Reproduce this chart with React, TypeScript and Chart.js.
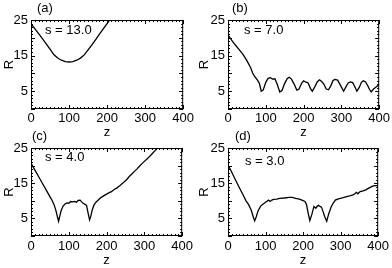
import React, { useEffect, useRef } from 'react';
import { Chart, registerables } from 'chart.js';

Chart.register(...registerables);

// ---------------- data ----------------
const panelLabels = ['(a)', '(b)', '(c)', '(d)'];
const sLabels = ['s = 13.0', 's = 7.0', 's = 4.0', 's = 3.0'];
const xTicks = [0, 100, 200, 300, 400];
const yTickLabels = [5, 15, 25];
const xTitle = 'z';
const yTitle = 'R';

const aZ = [0, 10, 20, 30, 40, 50, 60, 70, 80, 90, 100, 110, 120, 130, 140, 150, 160, 170, 180, 190, 200, 210, 220];
const aR = [24.0, 22.6, 21.2, 19.8, 18.3, 16.8, 15.3, 14.3, 13.7, 13.3, 13.2, 13.3, 13.7, 14.3, 15.2, 16.6, 18.0, 19.5, 21.0, 22.5, 24.0, 25.5, 27.0];

const bZ = [0, 10, 20, 30, 40, 50, 60, 65, 70, 78, 83, 88, 93, 100, 106, 112, 118, 124, 130, 137, 143, 150, 157, 162, 168, 175, 182, 188, 195, 200, 205, 212, 218, 223, 230, 236, 242, 248, 254, 260, 266, 272, 278, 283, 290, 296, 302, 306, 312, 318, 324, 330, 336, 341, 347, 353, 358, 364, 370, 375, 379, 385, 392, 400];
const bR = [20.8, 19.3, 17.9, 16.6, 15.3, 13.6, 11.6, 10.2, 9.2, 8.1, 7.2, 5.0, 5.3, 7.5, 8.6, 8.8, 8.4, 8.5, 7.0, 4.8, 5.2, 7.2, 8.6, 8.9, 8.4, 7.0, 5.3, 5.6, 7.3, 7.9, 7.6, 7.3, 5.8, 5.0, 6.3, 7.6, 8.2, 7.7, 6.9, 5.6, 5.4, 6.5, 8.0, 8.3, 8.1, 7.0, 5.8, 5.0, 6.2, 7.3, 7.6, 7.4, 6.2, 5.0, 6.0, 7.5, 7.9, 7.6, 6.5, 5.4, 4.8, 5.6, 6.2, 6.9];

const cZ = [0, 10, 20, 30, 40, 50, 56, 61, 66, 70, 73, 76, 80, 85, 90, 95, 100, 105, 110, 115, 120, 125, 130, 134, 138, 143, 147, 151, 155, 158, 162, 167, 172, 178, 185, 192, 200, 207, 213, 220, 227, 233, 240, 247, 253, 260, 267, 273, 280, 287, 293, 300, 307, 313, 320, 327, 333, 340];
const cR = [20.7, 18.8, 16.9, 15.0, 13.1, 11.2, 10.1, 8.9, 7.2, 5.4, 4.2, 5.6, 7.3, 8.5, 9.1, 9.4, 9.3, 9.8, 9.7, 9.8, 9.6, 10.1, 10.2, 9.7, 9.3, 9.0, 8.7, 6.6, 4.6, 5.5, 7.4, 8.9, 9.6, 10.2, 10.9, 11.4, 11.9, 12.3, 12.6, 13.2, 13.6, 14.1, 14.8, 15.4, 16.0, 16.9, 17.6, 18.3, 19.0, 19.8, 20.5, 21.2, 21.9, 22.5, 23.3, 24.1, 24.8, 25.6];

const dZ = [0, 10, 20, 30, 40, 48, 55, 62, 68, 71, 75, 80, 87, 93, 99, 104, 108, 112, 117, 121, 130, 138, 150, 163, 172, 180, 190, 197, 205, 209, 213, 218, 223, 229, 234, 238, 241, 245, 249, 253, 258, 263, 268, 275, 280, 286, 292, 299, 307, 316, 324, 333, 338, 342, 346, 352, 360, 367, 375, 384, 390, 397, 400];
const dR = [20.2, 18.1, 15.9, 13.8, 11.7, 10.0, 8.9, 7.3, 5.2, 4.3, 5.4, 7.1, 8.5, 9.0, 9.5, 9.9, 10.2, 9.8, 10.2, 10.4, 10.5, 10.7, 10.8, 11.0, 11.0, 10.7, 10.5, 10.2, 9.8, 9.0, 6.8, 4.4, 6.0, 8.4, 7.9, 8.5, 8.7, 8.4, 8.2, 7.0, 5.4, 4.2, 6.2, 8.3, 9.3, 10.2, 10.5, 10.7, 10.9, 11.2, 11.4, 11.7, 12.0, 12.4, 12.0, 12.6, 12.8, 13.1, 13.6, 14.1, 14.3, 14.3, 14.5];

const seriesZ = [aZ, bZ, cZ, dZ];
const seriesR = [aR, bR, cR, dR];

// ---------------- layout / style ----------------
const FONT = "'Liberation Sans', Arial, Helvetica, sans-serif";
const FS = 13;

type Layout = {
  left: number; top: number; w: number; h: number;
  padT: number; padR: number; yW: number; xH: number; rPad: number; zPad: number; tickPad: number;
  labelDx: number; sDx: number; sDy: number;
};

const layouts: Layout[] = [
  { left: 0, top: 0, w: 196, h: 142, padT: 20, padR: 9, yW: 31, xH: 33, rPad: 2, zPad: 2, tickPad: 2, labelDx: 6, sDx: 14, sDy: 10 },
  { left: 196, top: 0, w: 196, h: 142, padT: 20, padR: 8, yW: 32, xH: 33, rPad: 1, zPad: 2, tickPad: 2, labelDx: 4, sDx: 16, sDy: 10 },
  { left: 0, top: 126, w: 196, h: 142, padT: 22, padR: 9, yW: 31, xH: 32, rPad: 2, zPad: 0, tickPad: 3, labelDx: 1, sDx: 14, sDy: 9 },
  { left: 196, top: 126, w: 196, h: 142, padT: 22, padR: 8, yW: 32, xH: 32, rPad: 1, zPad: 0, tickPad: 3, labelDx: 7, sDx: 17, sDy: 13 },
];

const idlPlugin = {
  id: 'idl',
  afterDatasetsDraw(chart: any, _args: any, opts: any) {
    const { ctx, chartArea: ca, scales } = chart;
    const xs = scales.x;
    const ys = scales.y;
    ctx.save();
    ctx.strokeStyle = '#000';
    ctx.lineWidth = 1;
    ctx.strokeRect(ca.left + 0.5, ca.top + 0.5, ca.right - ca.left - 1, ca.bottom - ca.top - 1);
    ctx.beginPath();
    for (let v = xs.min; v <= xs.max; v += 10) {
      const px = Math.round(xs.getPixelForValue(v)) + 0.5;
      const len = v % 100 === 0 ? 4 : 2;
      ctx.moveTo(px, ca.bottom);
      ctx.lineTo(px, ca.bottom - len);
      ctx.moveTo(px, ca.top);
      ctx.lineTo(px, ca.top + len);
    }
    for (let v = ys.min; v <= ys.max; v += 1) {
      const py = Math.round(ys.getPixelForValue(v)) + 0.5;
      const len = v % 5 === 0 ? 4 : 2;
      ctx.moveTo(ca.left, py);
      ctx.lineTo(ca.left + len, py);
      ctx.moveTo(ca.right, py);
      ctx.lineTo(ca.right - len, py);
    }
    ctx.stroke();
    ctx.fillStyle = '#000';
    ctx.font = `${FS}px ${FONT}`;
    ctx.textAlign = 'left';
    ctx.textBaseline = 'alphabetic';
    ctx.fillText(opts.label, ca.left + opts.labelDx, ca.top - 8);
    ctx.textBaseline = 'middle';
    ctx.fillText(opts.s, ca.left + opts.sDx, ca.top + opts.sDy);
    ctx.restore();
  },
};

function makeConfig(i: number): any {
  const L = layouts[i];
  const font = { size: FS, family: FONT };
  return {
    type: 'line',
    data: {
      datasets: [
        {
          data: seriesZ[i].map((z, k) => ({ x: z, y: seriesR[i][k] })),
          borderColor: '#000',
          borderWidth: 1.3,
          pointRadius: 0,
          tension: 0,
          fill: false,
          clip: 0,
        },
      ],
    },
    plugins: [idlPlugin],
    options: {
      responsive: false,
      animation: false,
      devicePixelRatio: 1,
      layout: { padding: { left: 0, top: L.padT, right: L.padR, bottom: 0 } },
      plugins: {
        legend: { display: false },
        tooltip: { enabled: false },
        idl: { label: panelLabels[i], s: sLabels[i], labelDx: L.labelDx, sDx: L.sDx, sDy: L.sDy },
      },
      scales: {
        x: {
          type: 'linear',
          min: xTicks[0],
          max: xTicks[xTicks.length - 1],
          afterBuildTicks: (s: any) => { s.ticks = xTicks.map((v) => ({ value: v })); },
          afterFit: (s: any) => { s.height = L.xH; },
          grid: { display: false, drawTicks: false },
          border: { display: false },
          ticks: { color: '#000', font, padding: L.tickPad, maxRotation: 0, autoSkip: false },
          title: { display: true, text: xTitle, color: '#000', font, padding: { top: 0, bottom: L.zPad } },
        },
        y: {
          type: 'linear',
          min: 0,
          max: 25,
          afterBuildTicks: (s: any) => { s.ticks = yTickLabels.map((v) => ({ value: v })); },
          afterFit: (s: any) => { s.width = L.yW; },
          grid: { display: false, drawTicks: false },
          border: { display: false },
          ticks: { color: '#000', font, padding: 3, autoSkip: false },
          title: { display: true, text: yTitle, color: '#000', font, padding: { top: L.rPad, bottom: 0 } },
        },
      },
    },
  };
}

function Panel({ idx }: { idx: number }) {
  const ref = useRef<HTMLCanvasElement>(null);
  useEffect(() => {
    const chart = new Chart(ref.current as HTMLCanvasElement, makeConfig(idx));
    return () => chart.destroy();
  }, [idx]);
  const L = layouts[idx];
  return (
    <canvas
      ref={ref}
      width={L.w}
      height={L.h}
      style={{ position: 'absolute', left: L.left, top: L.top, width: L.w, height: L.h }}
    />
  );
}

export default function App() {
  return (
    <div style={{ position: 'absolute', left: 0, top: 0, width: 392, height: 268, background: '#fff', overflow: 'hidden' }}>
      {[0, 1, 2, 3].map((i) => (
        <Panel key={i} idx={i} />
      ))}
    </div>
  );
}
